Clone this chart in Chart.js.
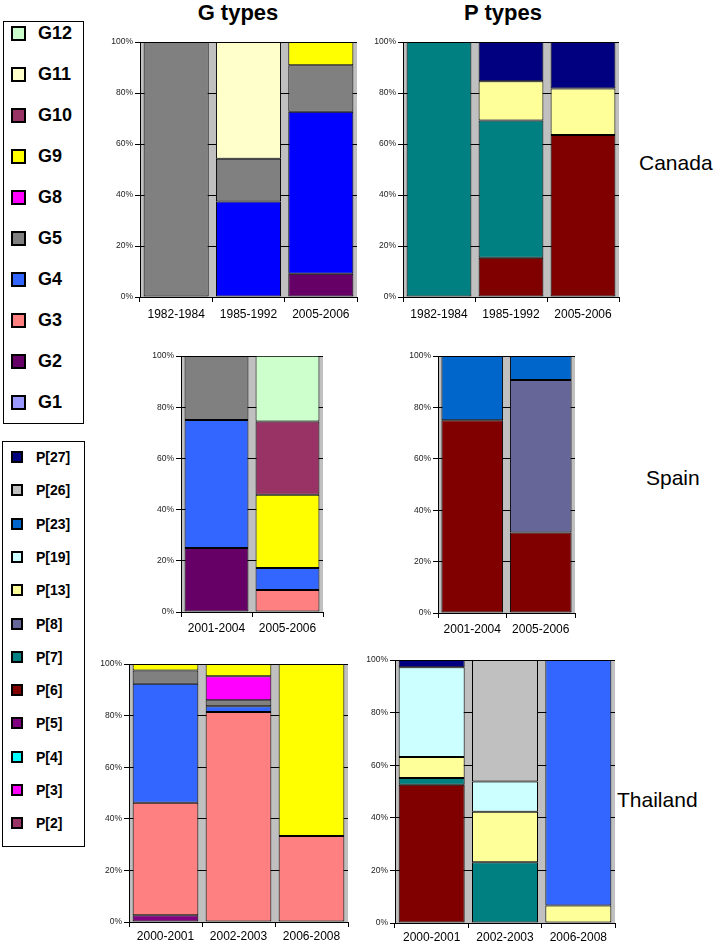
<!DOCTYPE html>
<html>
<head>
<meta charset="utf-8">
<script src="https://cdn.jsdelivr.net/npm/chart.js@4"></script>
<style>
  body { margin: 0; background: #fff; font-family: "Liberation Sans", Arial, sans-serif; }
  #page { position: relative; width: 715px; height: 944px; overflow: hidden; }
  canvas { position: absolute; }
  .box { position: absolute; border: 1px solid #000; background: #fff; }
  .item { position: absolute; display: flex; align-items: center; font-weight: bold; color: #000; }
  .sw { border: 2px solid #000; box-sizing: border-box; }
  .title { position: absolute; font-weight: bold; font-size: 22px; transform: translate(-50%, -50%); }
  .country { position: absolute; font-size: 21px; transform: translateY(-50%); z-index: 5; }
</style>
</head>
<body>
<div id="page">
  <div class="box" id="gBox" style="left:3px;top:21px;width:79px;height:401px"></div>
  <div class="box" id="pBox" style="left:2px;top:441px;width:81px;height:404px"></div>
  <div class="title" style="left:238px;top:13px">G types</div>
  <div class="title" style="left:503px;top:13px">P types</div>
  <div class="country" style="left:639px;top:163px">Canada</div>
  <div class="country" style="left:646px;top:478px">Spain</div>
  <div class="country" style="left:617px;top:800px">Thailand</div>
  <canvas id="c1"></canvas>
  <canvas id="c2"></canvas>
  <canvas id="c3"></canvas>
  <canvas id="c4"></canvas>
  <canvas id="c5"></canvas>
  <canvas id="c6"></canvas>
</div>
<script>
// legend order (top to bottom as in the figure)
const gLegend = ["G12", "G11", "G10", "G9", "G8", "G5", "G4", "G3", "G2", "G1"];
const pLegend = ["P[27]", "P[26]", "P[23]", "P[19]", "P[13]", "P[8]", "P[7]", "P[6]", "P[5]", "P[4]", "P[3]", "P[2]"];

// percentages per period, bottom segment first
const canadaYears = ["1982-1984", "1985-1992", "2005-2006"];
const canadaG = [
  ["G2", [0, 0, 9.1]],
  ["G4", [0, 37.5, 63.6]],
  ["G5", [100, 16.7, 18.2]],
  ["G9", [0, 0, 9.1]],
  ["G11", [0, 45.8, 0]]
];
const canadaP = [
  ["P[6]", [0, 15.4, 63.6]],
  ["P[7]", [100, 53.8, 0]],
  ["P[13]", [0, 15.4, 18.2]],
  ["P[27]", [0, 15.4, 18.2]]
];

const spainYears = ["2001-2004", "2005-2006"];
const spainG = [
  ["G2", [25, 0]],
  ["G3", [0, 8.6]],
  ["G4", [50, 8.6]],
  ["G5", [25, 0]],
  ["G9", [0, 28.6]],
  ["G10", [0, 28.6]],
  ["G12", [0, 25.7]]
];
const spainP = [
  ["P[6]", [75, 31.3]],
  ["P[8]", [0, 59.4]],
  ["P[23]", [25, 9.3]]
];

const thaiYears = ["2000-2001", "2002-2003", "2006-2008"];
const thaiG = [
  ["G2", [2.6, 0, 0]],
  ["G3", [43.6, 81.4, 33.3]],
  ["G4", [46.2, 2.3, 0]],
  ["G5", [5.1, 2.3, 0]],
  ["G8", [0, 9.3, 0]],
  ["G9", [2.5, 4.7, 66.7]]
];
const thaiP = [
  ["P[6]", [52.6, 0, 0]],
  ["P[7]", [2.6, 23.1, 0]],
  ["P[13]", [7.9, 19.2, 6.7]],
  ["P[19]", [34.2, 11.5, 0]],
  ["P[23]", [0, 0, 93.3]],
  ["P[26]", [0, 46.2, 0]],
  ["P[27]", [2.7, 0, 0]]
];

const yTicks = [0, 20, 40, 60, 80, 100];

const colors = {
  "G12": "#CCFFCC", "G11": "#FFFFCC", "G10": "#993366", "G9": "#FFFF00", "G8": "#FF00FF",
  "G5": "#808080", "G4": "#3366FF", "G3": "#FF8080", "G2": "#660066", "G1": "#9999FF",
  "P[27]": "#000080", "P[26]": "#C0C0C0", "P[23]": "#0066CC", "P[19]": "#CCFFFF", "P[13]": "#FFFF99",
  "P[8]": "#666699", "P[7]": "#008080", "P[6]": "#800000", "P[5]": "#800080", "P[4]": "#00FFFF",
  "P[3]": "#FF00FF", "P[2]": "#993366"
};

// legends
function buildLegend(names, firstY, step, sw, fontSize, textX) {
  const page = document.getElementById("page");
  names.forEach((n, i) => {
    const d = document.createElement("div");
    d.className = "item";
    d.style.left = "11px";
    d.style.top = (firstY + i * step - 12) + "px";
    d.style.height = "24px";
    d.style.fontSize = fontSize + "px";
    const s = document.createElement("div");
    s.className = "sw";
    s.style.width = sw + "px";
    s.style.height = sw + "px";
    s.style.background = colors[n];
    s.style.marginRight = (textX - 11 - sw) + "px";
    d.appendChild(s);
    d.appendChild(document.createTextNode(n));
    page.appendChild(d);
  });
}
buildLegend(gLegend, 33, 41, 15, 18, 38);
buildLegend(pLegend, 457, 33.3, 12, 14, 36);

const plotBg = {
  id: "plotBg",
  beforeDraw(chart) {
    const { ctx, chartArea: a } = chart;
    ctx.save();
    ctx.fillStyle = "#C0C0C0";
    ctx.fillRect(a.left, a.top, a.right - a.left, a.bottom - a.top);
    ctx.restore();
  }
};

function makeChart(id, years, series, box, over) {
  const yW = 40, top = 6, xH = 30;
  const cv = document.getElementById(id);
  cv.width = box.r - box.l + yW + 2;
  cv.height = box.b - box.t + top + xH;
  cv.style.left = (box.l - yW) + "px";
  cv.style.top = (box.t - top) + "px";
  new Chart(cv, {
    type: "bar",
    data: {
      labels: years,
      datasets: series.map(([name, vals]) => ({
        label: name,
        data: vals.map(v => v === 0 ? null : v),
        backgroundColor: (over && over[name]) || colors[name],
        borderColor: "#000",
        borderWidth: 1,
        borderSkipped: false,
        barPercentage: 0.9,
        categoryPercentage: 1
      }))
    },
    options: {
      responsive: false,
      animation: false,
      layout: { padding: { top: top, right: 2, left: 0, bottom: 0 } },
      plugins: { legend: { display: false }, tooltip: { enabled: false } },
      scales: {
        x: {
          stacked: true,
          afterFit: s => { s.height = xH; },
          grid: { drawOnChartArea: false, color: "#000", tickLength: 5 },
          border: { color: "#000" },
          ticks: { color: "#000", font: { family: "Liberation Sans", size: 12 }, padding: box.pad }
        },
        y: {
          stacked: true,
          min: 0,
          max: 100,
          afterFit: s => { s.width = yW; },
          afterBuildTicks: s => { s.ticks = yTicks.map(v => ({ value: v })); },
          grid: { color: "#000", tickLength: 5 },
          border: { color: "#000" },
          ticks: {
            color: "#222",
            font: { family: "Liberation Sans", size: 8.5 },
            padding: 2,
            callback: v => v + "%"
          }
        }
      }
    },
    plugins: [plotBg]
  });
}

makeChart("c1", canadaYears, canadaG, { l: 140, t: 41, r: 357, b: 297, pad: 5 }, { "G4": "#0000FF" });
makeChart("c2", canadaYears, canadaP, { l: 403, t: 41, r: 619, b: 297, pad: 5 });
makeChart("c3", spainYears, spainG, { l: 181, t: 355, r: 323, b: 612, pad: 4 });
makeChart("c4", spainYears, spainP, { l: 438, t: 355, r: 575, b: 613, pad: 4 });
makeChart("c5", thaiYears, thaiG, { l: 129, t: 663, r: 348, b: 922, pad: 2 }, { "G2": "#800080" });
makeChart("c6", thaiYears, thaiP, { l: 395, t: 659, r: 615, b: 923, pad: 2 }, { "P[23]": "#3366FF" });
</script>
</body>
</html>
